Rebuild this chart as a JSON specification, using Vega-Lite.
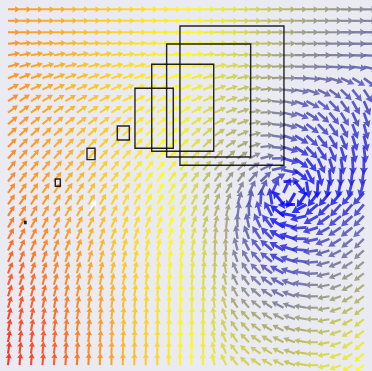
{
  "$schema": "https://vega.github.io/schema/vega-lite/v6.json",
  "width": 372,
  "height": 371,
  "padding": 0,
  "autosize": {"type": "none"},
  "background": "#eaeaf2",
  "config": {"view": {"stroke": null}},
  "layer": [
    {
      "data": {"values": [
{"c":0,"r":0,"a":0,"s":26},{"c":1,"r":0,"a":0,"s":28},{"c":2,"r":0,"a":0,"s":29},{"c":3,"r":0,"a":0,"s":31},{"c":4,"r":0,"a":0,"s":32},{"c":5,"r":0,"a":0,"s":34},{"c":6,"r":0,"a":0,"s":36},{"c":7,"r":0,"a":0,"s":37},{"c":8,"r":0,"a":0,"s":39},{"c":9,"r":0,"a":0,"s":40},{"c":10,"r":0,"a":0,"s":42},{"c":11,"r":0,"a":0,"s":43},{"c":12,"r":0,"a":0,"s":45},{"c":13,"r":0,"a":0,"s":46},{"c":14,"r":0,"a":0,"s":48},{"c":15,"r":0,"a":0,"s":49},{"c":16,"r":0,"a":0,"s":51},{"c":17,"r":0,"a":0,"s":52},{"c":18,"r":0,"a":0,"s":54},{"c":19,"r":0,"a":0,"s":55},{"c":20,"r":0,"a":0,"s":57},{"c":21,"r":0,"a":0,"s":59},{"c":22,"r":0,"a":0,"s":61},{"c":23,"r":0,"a":0,"s":64},{"c":24,"r":0,"a":0,"s":66},{"c":25,"r":0,"a":0,"s":68},{"c":26,"r":0,"a":0,"s":69},{"c":27,"r":0,"a":0,"s":70},{"c":28,"r":0,"a":0,"s":72},{"c":29,"r":0,"a":0,"s":73},{"c":30,"r":0,"a":0,"s":74},{"c":31,"r":0,"a":0,"s":75},
{"c":0,"r":1,"a":0,"s":26},{"c":1,"r":1,"a":0,"s":28},{"c":2,"r":1,"a":0,"s":29},{"c":3,"r":1,"a":0,"s":31},{"c":4,"r":1,"a":0,"s":32},{"c":5,"r":1,"a":0,"s":34},{"c":6,"r":1,"a":0,"s":36},{"c":7,"r":1,"a":0,"s":37},{"c":8,"r":1,"a":0,"s":39},{"c":9,"r":1,"a":0,"s":41},{"c":10,"r":1,"a":0,"s":42},{"c":11,"r":1,"a":0,"s":44},{"c":12,"r":1,"a":0,"s":45},{"c":13,"r":1,"a":0,"s":46},{"c":14,"r":1,"a":0,"s":48},{"c":15,"r":1,"a":0,"s":49},{"c":16,"r":1,"a":0,"s":51},{"c":17,"r":1,"a":0,"s":53},{"c":18,"r":1,"a":0,"s":54},{"c":19,"r":1,"a":0,"s":56},{"c":20,"r":1,"a":0,"s":58},{"c":21,"r":1,"a":0,"s":60},{"c":22,"r":1,"a":0,"s":62},{"c":23,"r":1,"a":0,"s":65},{"c":24,"r":1,"a":0,"s":67},{"c":25,"r":1,"a":0,"s":69},{"c":26,"r":1,"a":0,"s":71},{"c":27,"r":1,"a":0,"s":72},{"c":28,"r":1,"a":0,"s":73},{"c":29,"r":1,"a":0,"s":74},{"c":30,"r":1,"a":0,"s":75},{"c":31,"r":1,"a":0,"s":76},
{"c":0,"r":2,"a":0,"s":26},{"c":1,"r":2,"a":0,"s":28},{"c":2,"r":2,"a":0,"s":29},{"c":3,"r":2,"a":0,"s":31},{"c":4,"r":2,"a":0,"s":32},{"c":5,"r":2,"a":0,"s":34},{"c":6,"r":2,"a":0,"s":36},{"c":7,"r":2,"a":0,"s":37},{"c":8,"r":2,"a":0,"s":39},{"c":9,"r":2,"a":0,"s":41},{"c":10,"r":2,"a":0,"s":42},{"c":11,"r":2,"a":0,"s":44},{"c":12,"r":2,"a":0,"s":45},{"c":13,"r":2,"a":0,"s":47},{"c":14,"r":2,"a":0,"s":48},{"c":15,"r":2,"a":0,"s":49},{"c":16,"r":2,"a":0,"s":51},{"c":17,"r":2,"a":0,"s":53},{"c":18,"r":2,"a":0,"s":55},{"c":19,"r":2,"a":0,"s":56},{"c":20,"r":2,"a":0,"s":58},{"c":21,"r":2,"a":0,"s":61},{"c":22,"r":2,"a":0,"s":63},{"c":23,"r":2,"a":0,"s":66},{"c":24,"r":2,"a":0,"s":68},{"c":25,"r":2,"a":0,"s":71},{"c":26,"r":2,"a":0,"s":72},{"c":27,"r":2,"a":0,"s":73},{"c":28,"r":2,"a":0,"s":74},{"c":29,"r":2,"a":0,"s":76},{"c":30,"r":2,"a":0,"s":77},{"c":31,"r":2,"a":0,"s":78},
{"c":0,"r":3,"a":5,"s":26},{"c":1,"r":3,"a":5,"s":28},{"c":2,"r":3,"a":5,"s":29},{"c":3,"r":3,"a":5,"s":31},{"c":4,"r":3,"a":5,"s":32},{"c":5,"r":3,"a":5,"s":34},{"c":6,"r":3,"a":5,"s":36},{"c":7,"r":3,"a":4,"s":37},{"c":8,"r":3,"a":4,"s":39},{"c":9,"r":3,"a":4,"s":41},{"c":10,"r":3,"a":4,"s":43},{"c":11,"r":3,"a":4,"s":44},{"c":12,"r":3,"a":4,"s":45},{"c":13,"r":3,"a":4,"s":47},{"c":14,"r":3,"a":3,"s":48},{"c":15,"r":3,"a":3,"s":50},{"c":16,"r":3,"a":3,"s":51},{"c":17,"r":3,"a":3,"s":53},{"c":18,"r":3,"a":3,"s":55},{"c":19,"r":3,"a":3,"s":57},{"c":20,"r":3,"a":3,"s":59},{"c":21,"r":3,"a":2,"s":62},{"c":22,"r":3,"a":2,"s":64},{"c":23,"r":3,"a":2,"s":67},{"c":24,"r":3,"a":2,"s":70},{"c":25,"r":3,"a":1,"s":72},{"c":26,"r":3,"a":1,"s":73},{"c":27,"r":3,"a":1,"s":75},{"c":28,"r":3,"a":0,"s":76},{"c":29,"r":3,"a":0,"s":77},{"c":30,"r":3,"a":0,"s":78},{"c":31,"r":3,"a":0,"s":79},
{"c":0,"r":4,"a":10,"s":26},{"c":1,"r":4,"a":10,"s":28},{"c":2,"r":4,"a":10,"s":29},{"c":3,"r":4,"a":9,"s":31},{"c":4,"r":4,"a":9,"s":32},{"c":5,"r":4,"a":9,"s":34},{"c":6,"r":4,"a":9,"s":36},{"c":7,"r":4,"a":9,"s":38},{"c":8,"r":4,"a":9,"s":39},{"c":9,"r":4,"a":8,"s":41},{"c":10,"r":4,"a":8,"s":43},{"c":11,"r":4,"a":8,"s":44},{"c":12,"r":4,"a":8,"s":46},{"c":13,"r":4,"a":8,"s":47},{"c":14,"r":4,"a":8,"s":48},{"c":15,"r":4,"a":7,"s":50},{"c":16,"r":4,"a":7,"s":52},{"c":17,"r":4,"a":7,"s":54},{"c":18,"r":4,"a":6,"s":56},{"c":19,"r":4,"a":5,"s":58},{"c":20,"r":4,"a":4,"s":59},{"c":21,"r":4,"a":3,"s":62},{"c":22,"r":4,"a":2,"s":65},{"c":23,"r":4,"a":1,"s":68},{"c":24,"r":4,"a":0,"s":71},{"c":25,"r":4,"a":0,"s":74},{"c":26,"r":4,"a":0,"s":75},{"c":27,"r":4,"a":0,"s":76},{"c":28,"r":4,"a":0,"s":77},{"c":29,"r":4,"a":-1,"s":78},{"c":30,"r":4,"a":-2,"s":79},{"c":31,"r":4,"a":-3,"s":81},
{"c":0,"r":5,"a":15,"s":26},{"c":1,"r":5,"a":15,"s":28},{"c":2,"r":5,"a":15,"s":29},{"c":3,"r":5,"a":14,"s":31},{"c":4,"r":5,"a":14,"s":32},{"c":5,"r":5,"a":14,"s":34},{"c":6,"r":5,"a":14,"s":36},{"c":7,"r":5,"a":13,"s":38},{"c":8,"r":5,"a":13,"s":39},{"c":9,"r":5,"a":13,"s":41},{"c":10,"r":5,"a":13,"s":43},{"c":11,"r":5,"a":12,"s":44},{"c":12,"r":5,"a":12,"s":46},{"c":13,"r":5,"a":12,"s":47},{"c":14,"r":5,"a":12,"s":49},{"c":15,"r":5,"a":11,"s":50},{"c":16,"r":5,"a":11,"s":52},{"c":17,"r":5,"a":11,"s":54},{"c":18,"r":5,"a":10,"s":56},{"c":19,"r":5,"a":9,"s":58},{"c":20,"r":5,"a":7,"s":60},{"c":21,"r":5,"a":6,"s":63},{"c":22,"r":5,"a":4,"s":66},{"c":23,"r":5,"a":3,"s":69},{"c":24,"r":5,"a":2,"s":72},{"c":25,"r":5,"a":1,"s":75},{"c":26,"r":5,"a":0,"s":76},{"c":27,"r":5,"a":-1,"s":77},{"c":28,"r":5,"a":-3,"s":79},{"c":29,"r":5,"a":-5,"s":80},{"c":30,"r":5,"a":-8,"s":81},{"c":31,"r":5,"a":-12,"s":82},
{"c":0,"r":6,"a":21,"s":26},{"c":1,"r":6,"a":21,"s":27},{"c":2,"r":6,"a":20,"s":29},{"c":3,"r":6,"a":20,"s":31},{"c":4,"r":6,"a":20,"s":32},{"c":5,"r":6,"a":20,"s":34},{"c":6,"r":6,"a":19,"s":36},{"c":7,"r":6,"a":19,"s":38},{"c":8,"r":6,"a":19,"s":39},{"c":9,"r":6,"a":18,"s":41},{"c":10,"r":6,"a":18,"s":43},{"c":11,"r":6,"a":18,"s":45},{"c":12,"r":6,"a":17,"s":46},{"c":13,"r":6,"a":17,"s":47},{"c":14,"r":6,"a":17,"s":49},{"c":15,"r":6,"a":17,"s":50},{"c":16,"r":6,"a":16,"s":53},{"c":17,"r":6,"a":16,"s":55},{"c":18,"r":6,"a":14,"s":57},{"c":19,"r":6,"a":12,"s":59},{"c":20,"r":6,"a":10,"s":61},{"c":21,"r":6,"a":8,"s":65},{"c":22,"r":6,"a":5,"s":68},{"c":23,"r":6,"a":3,"s":71},{"c":24,"r":6,"a":1,"s":74},{"c":25,"r":6,"a":-1,"s":78},{"c":26,"r":6,"a":-5,"s":79},{"c":27,"r":6,"a":-10,"s":80},{"c":28,"r":6,"a":-17,"s":81},{"c":29,"r":6,"a":-24,"s":82},{"c":30,"r":6,"a":-31,"s":83},{"c":31,"r":6,"a":-37,"s":84},
{"c":0,"r":7,"a":27,"s":26},{"c":1,"r":7,"a":27,"s":27},{"c":2,"r":7,"a":26,"s":29},{"c":3,"r":7,"a":26,"s":30},{"c":4,"r":7,"a":26,"s":32},{"c":5,"r":7,"a":25,"s":34},{"c":6,"r":7,"a":25,"s":36},{"c":7,"r":7,"a":25,"s":37},{"c":8,"r":7,"a":24,"s":39},{"c":9,"r":7,"a":24,"s":41},{"c":10,"r":7,"a":23,"s":43},{"c":11,"r":7,"a":23,"s":45},{"c":12,"r":7,"a":23,"s":46},{"c":13,"r":7,"a":22,"s":48},{"c":14,"r":7,"a":22,"s":49},{"c":15,"r":7,"a":22,"s":51},{"c":16,"r":7,"a":21,"s":53},{"c":17,"r":7,"a":21,"s":55},{"c":18,"r":7,"a":19,"s":58},{"c":19,"r":7,"a":17,"s":60},{"c":20,"r":7,"a":14,"s":62},{"c":21,"r":7,"a":10,"s":66},{"c":22,"r":7,"a":5,"s":70},{"c":23,"r":7,"a":0,"s":73},{"c":24,"r":7,"a":-6,"s":77},{"c":25,"r":7,"a":-12,"s":80},{"c":26,"r":7,"a":-19,"s":81},{"c":27,"r":7,"a":-27,"s":82},{"c":28,"r":7,"a":-36,"s":83},{"c":29,"r":7,"a":-44,"s":84},{"c":30,"r":7,"a":-51,"s":84},{"c":31,"r":7,"a":-57,"s":85},
{"c":0,"r":8,"a":32,"s":25},{"c":1,"r":8,"a":32,"s":27},{"c":2,"r":8,"a":31,"s":29},{"c":3,"r":8,"a":31,"s":30},{"c":4,"r":8,"a":30,"s":32},{"c":5,"r":8,"a":30,"s":33},{"c":6,"r":8,"a":30,"s":35},{"c":7,"r":8,"a":29,"s":37},{"c":8,"r":8,"a":29,"s":39},{"c":9,"r":8,"a":28,"s":41},{"c":10,"r":8,"a":28,"s":43},{"c":11,"r":8,"a":27,"s":45},{"c":12,"r":8,"a":27,"s":46},{"c":13,"r":8,"a":27,"s":48},{"c":14,"r":8,"a":26,"s":50},{"c":15,"r":8,"a":26,"s":51},{"c":16,"r":8,"a":25,"s":54},{"c":17,"r":8,"a":25,"s":56},{"c":18,"r":8,"a":23,"s":59},{"c":19,"r":8,"a":20,"s":61},{"c":20,"r":8,"a":16,"s":64},{"c":21,"r":8,"a":10,"s":67},{"c":22,"r":8,"a":3,"s":71},{"c":23,"r":8,"a":-5,"s":75},{"c":24,"r":8,"a":-12,"s":79},{"c":25,"r":8,"a":-20,"s":83},{"c":26,"r":8,"a":-28,"s":83},{"c":27,"r":8,"a":-37,"s":84},{"c":28,"r":8,"a":-46,"s":85},{"c":29,"r":8,"a":-54,"s":85},{"c":30,"r":8,"a":-61,"s":86},{"c":31,"r":8,"a":-66,"s":87},
{"c":0,"r":9,"a":36,"s":25},{"c":1,"r":9,"a":36,"s":27},{"c":2,"r":9,"a":35,"s":28},{"c":3,"r":9,"a":35,"s":30},{"c":4,"r":9,"a":34,"s":32},{"c":5,"r":9,"a":34,"s":33},{"c":6,"r":9,"a":34,"s":35},{"c":7,"r":9,"a":33,"s":37},{"c":8,"r":9,"a":33,"s":39},{"c":9,"r":9,"a":32,"s":41},{"c":10,"r":9,"a":32,"s":43},{"c":11,"r":9,"a":31,"s":45},{"c":12,"r":9,"a":31,"s":46},{"c":13,"r":9,"a":31,"s":48},{"c":14,"r":9,"a":30,"s":50},{"c":15,"r":9,"a":30,"s":52},{"c":16,"r":9,"a":29,"s":54},{"c":17,"r":9,"a":29,"s":57},{"c":18,"r":9,"a":25,"s":60},{"c":19,"r":9,"a":22,"s":62},{"c":20,"r":9,"a":18,"s":65},{"c":21,"r":9,"a":11,"s":68},{"c":22,"r":9,"a":3,"s":72},{"c":23,"r":9,"a":-6,"s":76},{"c":24,"r":9,"a":-14,"s":80},{"c":25,"r":9,"a":-23,"s":84},{"c":26,"r":9,"a":-32,"s":85},{"c":27,"r":9,"a":-42,"s":85},{"c":28,"r":9,"a":-51,"s":86},{"c":29,"r":9,"a":-59,"s":86},{"c":30,"r":9,"a":-66,"s":87},{"c":31,"r":9,"a":-71,"s":88},
{"c":0,"r":10,"a":39,"s":25},{"c":1,"r":10,"a":39,"s":27},{"c":2,"r":10,"a":38,"s":28},{"c":3,"r":10,"a":38,"s":30},{"c":4,"r":10,"a":38,"s":31},{"c":5,"r":10,"a":37,"s":33},{"c":6,"r":10,"a":37,"s":35},{"c":7,"r":10,"a":37,"s":37},{"c":8,"r":10,"a":36,"s":39},{"c":9,"r":10,"a":36,"s":41},{"c":10,"r":10,"a":35,"s":43},{"c":11,"r":10,"a":35,"s":45},{"c":12,"r":10,"a":35,"s":47},{"c":13,"r":10,"a":34,"s":48},{"c":14,"r":10,"a":34,"s":50},{"c":15,"r":10,"a":34,"s":52},{"c":16,"r":10,"a":33,"s":55},{"c":17,"r":10,"a":33,"s":58},{"c":18,"r":10,"a":29,"s":60},{"c":19,"r":10,"a":25,"s":63},{"c":20,"r":10,"a":20,"s":65},{"c":21,"r":10,"a":12,"s":69},{"c":22,"r":10,"a":3,"s":73},{"c":23,"r":10,"a":-6,"s":77},{"c":24,"r":10,"a":-16,"s":81},{"c":25,"r":10,"a":-26,"s":85},{"c":26,"r":10,"a":-36,"s":86},{"c":27,"r":10,"a":-46,"s":86},{"c":28,"r":10,"a":-55,"s":87},{"c":29,"r":10,"a":-63,"s":87},{"c":30,"r":10,"a":-70,"s":88},{"c":31,"r":10,"a":-75,"s":88},
{"c":0,"r":11,"a":43,"s":25},{"c":1,"r":11,"a":43,"s":26},{"c":2,"r":11,"a":43,"s":28},{"c":3,"r":11,"a":42,"s":30},{"c":4,"r":11,"a":42,"s":31},{"c":5,"r":11,"a":42,"s":33},{"c":6,"r":11,"a":42,"s":35},{"c":7,"r":11,"a":42,"s":37},{"c":8,"r":11,"a":42,"s":39},{"c":9,"r":11,"a":41,"s":41},{"c":10,"r":11,"a":41,"s":43},{"c":11,"r":11,"a":41,"s":45},{"c":12,"r":11,"a":41,"s":47},{"c":13,"r":11,"a":41,"s":49},{"c":14,"r":11,"a":40,"s":51},{"c":15,"r":11,"a":40,"s":53},{"c":16,"r":11,"a":40,"s":56},{"c":17,"r":11,"a":40,"s":59},{"c":18,"r":11,"a":33,"s":62},{"c":19,"r":11,"a":29,"s":65},{"c":20,"r":11,"a":23,"s":66},{"c":21,"r":11,"a":14,"s":70},{"c":22,"r":11,"a":2,"s":75},{"c":23,"r":11,"a":-8,"s":79},{"c":24,"r":11,"a":-19,"s":84},{"c":25,"r":11,"a":-31,"s":88},{"c":26,"r":11,"a":-42,"s":88},{"c":27,"r":11,"a":-52,"s":89},{"c":28,"r":11,"a":-60,"s":89},{"c":29,"r":11,"a":-67,"s":89},{"c":30,"r":11,"a":-73,"s":90},{"c":31,"r":11,"a":-77,"s":90},
{"c":0,"r":12,"a":46,"s":25},{"c":1,"r":12,"a":46,"s":26},{"c":2,"r":12,"a":46,"s":28},{"c":3,"r":12,"a":46,"s":29},{"c":4,"r":12,"a":46,"s":31},{"c":5,"r":12,"a":45,"s":33},{"c":6,"r":12,"a":45,"s":35},{"c":7,"r":12,"a":45,"s":37},{"c":8,"r":12,"a":45,"s":39},{"c":9,"r":12,"a":45,"s":41},{"c":10,"r":12,"a":45,"s":43},{"c":11,"r":12,"a":45,"s":45},{"c":12,"r":12,"a":45,"s":47},{"c":13,"r":12,"a":44,"s":49},{"c":14,"r":12,"a":44,"s":51},{"c":15,"r":12,"a":44,"s":53},{"c":16,"r":12,"a":44,"s":56},{"c":17,"r":12,"a":44,"s":60},{"c":18,"r":12,"a":40,"s":63},{"c":19,"r":12,"a":35,"s":66},{"c":20,"r":12,"a":28,"s":68},{"c":21,"r":12,"a":18,"s":72},{"c":22,"r":12,"a":7,"s":77},{"c":23,"r":12,"a":-4,"s":81},{"c":24,"r":12,"a":-18,"s":86},{"c":25,"r":12,"a":-32,"s":90},{"c":26,"r":12,"a":-46,"s":90},{"c":27,"r":12,"a":-57,"s":90},{"c":28,"r":12,"a":-66,"s":90},{"c":29,"r":12,"a":-73,"s":90},{"c":30,"r":12,"a":-79,"s":90},{"c":31,"r":12,"a":-83,"s":90},
{"c":0,"r":13,"a":48,"s":24},{"c":1,"r":13,"a":48,"s":26},{"c":2,"r":13,"a":48,"s":28},{"c":3,"r":13,"a":48,"s":29},{"c":4,"r":13,"a":48,"s":31},{"c":5,"r":13,"a":48,"s":32},{"c":6,"r":13,"a":48,"s":35},{"c":7,"r":13,"a":48,"s":37},{"c":8,"r":13,"a":48,"s":39},{"c":9,"r":13,"a":47,"s":41},{"c":10,"r":13,"a":47,"s":43},{"c":11,"r":13,"a":47,"s":45},{"c":12,"r":13,"a":47,"s":47},{"c":13,"r":13,"a":47,"s":50},{"c":14,"r":13,"a":47,"s":52},{"c":15,"r":13,"a":47,"s":54},{"c":16,"r":13,"a":47,"s":57},{"c":17,"r":13,"a":47,"s":61},{"c":18,"r":13,"a":45,"s":64},{"c":19,"r":13,"a":41,"s":68},{"c":20,"r":13,"a":35,"s":70},{"c":21,"r":13,"a":26,"s":74},{"c":22,"r":13,"a":15,"s":79},{"c":23,"r":13,"a":2,"s":83},{"c":24,"r":13,"a":-16,"s":88},{"c":25,"r":13,"a":-35,"s":92},{"c":26,"r":13,"a":-52,"s":92},{"c":27,"r":13,"a":-65,"s":91},{"c":28,"r":13,"a":-74,"s":91},{"c":29,"r":13,"a":-81,"s":91},{"c":30,"r":13,"a":-86,"s":90},{"c":31,"r":13,"a":-90,"s":90},
{"c":0,"r":14,"a":50,"s":24},{"c":1,"r":14,"a":50,"s":26},{"c":2,"r":14,"a":50,"s":27},{"c":3,"r":14,"a":50,"s":29},{"c":4,"r":14,"a":50,"s":31},{"c":5,"r":14,"a":50,"s":32},{"c":6,"r":14,"a":50,"s":34},{"c":7,"r":14,"a":50,"s":37},{"c":8,"r":14,"a":50,"s":39},{"c":9,"r":14,"a":50,"s":41},{"c":10,"r":14,"a":50,"s":43},{"c":11,"r":14,"a":50,"s":45},{"c":12,"r":14,"a":50,"s":48},{"c":13,"r":14,"a":50,"s":50},{"c":14,"r":14,"a":50,"s":52},{"c":15,"r":14,"a":50,"s":54},{"c":16,"r":14,"a":50,"s":58},{"c":17,"r":14,"a":50,"s":62},{"c":18,"r":14,"a":49,"s":66},{"c":19,"r":14,"a":47,"s":69},{"c":20,"r":14,"a":43,"s":71},{"c":21,"r":14,"a":36,"s":76},{"c":22,"r":14,"a":26,"s":80},{"c":23,"r":14,"a":12,"s":85},{"c":24,"r":14,"a":-11,"s":90},{"c":25,"r":14,"a":-39,"s":94},{"c":26,"r":14,"a":-62,"s":93},{"c":27,"r":14,"a":-76,"s":93},{"c":28,"r":14,"a":-85,"s":92},{"c":29,"r":14,"a":-91,"s":91},{"c":30,"r":14,"a":-95,"s":91},{"c":31,"r":14,"a":-98,"s":90},
{"c":0,"r":15,"a":52,"s":24},{"c":1,"r":15,"a":52,"s":26},{"c":2,"r":15,"a":52,"s":27},{"c":3,"r":15,"a":52,"s":29},{"c":4,"r":15,"a":52,"s":30},{"c":5,"r":15,"a":52,"s":32},{"c":6,"r":15,"a":52,"s":34},{"c":7,"r":15,"a":52,"s":36},{"c":8,"r":15,"a":52,"s":39},{"c":9,"r":15,"a":53,"s":41},{"c":10,"r":15,"a":53,"s":43},{"c":11,"r":15,"a":53,"s":45},{"c":12,"r":15,"a":53,"s":48},{"c":13,"r":15,"a":53,"s":50},{"c":14,"r":15,"a":53,"s":53},{"c":15,"r":15,"a":53,"s":55},{"c":16,"r":15,"a":53,"s":59},{"c":17,"r":15,"a":53,"s":63},{"c":18,"r":15,"a":54,"s":67},{"c":19,"r":15,"a":54,"s":71},{"c":20,"r":15,"a":53,"s":73},{"c":21,"r":15,"a":49,"s":78},{"c":22,"r":15,"a":43,"s":82},{"c":23,"r":15,"a":31,"s":87},{"c":24,"r":15,"a":2,"s":91},{"c":25,"r":15,"a":-52,"s":96},{"c":26,"r":15,"a":-81,"s":95},{"c":27,"r":15,"a":-93,"s":94},{"c":28,"r":15,"a":-99,"s":93},{"c":29,"r":15,"a":-102,"s":92},{"c":30,"r":15,"a":-105,"s":91},{"c":31,"r":15,"a":-106,"s":90},
{"c":0,"r":16,"a":54,"s":23},{"c":1,"r":16,"a":54,"s":25},{"c":2,"r":16,"a":54,"s":26},{"c":3,"r":16,"a":55,"s":28},{"c":4,"r":16,"a":55,"s":30},{"c":5,"r":16,"a":55,"s":31},{"c":6,"r":16,"a":55,"s":33},{"c":7,"r":16,"a":56,"s":36},{"c":8,"r":16,"a":56,"s":38},{"c":9,"r":16,"a":56,"s":40},{"c":10,"r":16,"a":56,"s":42},{"c":11,"r":16,"a":57,"s":45},{"c":12,"r":16,"a":57,"s":47},{"c":13,"r":16,"a":57,"s":50},{"c":14,"r":16,"a":57,"s":52},{"c":15,"r":16,"a":58,"s":54},{"c":16,"r":16,"a":58,"s":58},{"c":17,"r":16,"a":58,"s":62},{"c":18,"r":16,"a":59,"s":66},{"c":19,"r":16,"a":61,"s":70},{"c":20,"r":16,"a":63,"s":75},{"c":21,"r":16,"a":64,"s":80},{"c":22,"r":16,"a":65,"s":84},{"c":23,"r":16,"a":65,"s":89},{"c":24,"r":16,"a":65,"s":93},{"c":25,"r":16,"a":240,"s":98},{"c":26,"r":16,"a":236,"s":97},{"c":27,"r":16,"a":233,"s":95},{"c":28,"r":16,"a":231,"s":94},{"c":29,"r":16,"a":230,"s":93},{"c":30,"r":16,"a":229,"s":91},{"c":31,"r":16,"a":228,"s":90},
{"c":0,"r":17,"a":56,"s":22},{"c":1,"r":17,"a":56,"s":23},{"c":2,"r":17,"a":57,"s":25},{"c":3,"r":17,"a":57,"s":27},{"c":4,"r":17,"a":57,"s":29},{"c":5,"r":17,"a":58,"s":30},{"c":6,"r":17,"a":58,"s":33},{"c":7,"r":17,"a":58,"s":35},{"c":8,"r":17,"a":59,"s":37},{"c":9,"r":17,"a":59,"s":40},{"c":10,"r":17,"a":60,"s":42},{"c":11,"r":17,"a":60,"s":44},{"c":12,"r":17,"a":60,"s":47},{"c":13,"r":17,"a":61,"s":49},{"c":14,"r":17,"a":61,"s":51},{"c":15,"r":17,"a":61,"s":54},{"c":16,"r":17,"a":62,"s":58},{"c":17,"r":17,"a":62,"s":62},{"c":18,"r":17,"a":66,"s":66},{"c":19,"r":17,"a":69,"s":70},{"c":20,"r":17,"a":74,"s":79},{"c":21,"r":17,"a":79,"s":84},{"c":22,"r":17,"a":87,"s":88},{"c":23,"r":17,"a":99,"s":93},{"c":24,"r":17,"a":128,"s":97},{"c":25,"r":17,"a":182,"s":96},{"c":26,"r":17,"a":210,"s":95},{"c":27,"r":17,"a":220,"s":93},{"c":28,"r":17,"a":225,"s":92},{"c":29,"r":17,"a":228,"s":90},{"c":30,"r":17,"a":229,"s":89},{"c":31,"r":17,"a":230,"s":87},
{"c":0,"r":18,"a":58,"s":20},{"c":1,"r":18,"a":58,"s":22},{"c":2,"r":18,"a":59,"s":24},{"c":3,"r":18,"a":59,"s":26},{"c":4,"r":18,"a":60,"s":28},{"c":5,"r":18,"a":60,"s":30},{"c":6,"r":18,"a":61,"s":32},{"c":7,"r":18,"a":61,"s":34},{"c":8,"r":18,"a":62,"s":37},{"c":9,"r":18,"a":62,"s":39},{"c":10,"r":18,"a":63,"s":41},{"c":11,"r":18,"a":63,"s":44},{"c":12,"r":18,"a":64,"s":46},{"c":13,"r":18,"a":64,"s":48},{"c":14,"r":18,"a":65,"s":51},{"c":15,"r":18,"a":65,"s":53},{"c":16,"r":18,"a":66,"s":57},{"c":17,"r":18,"a":66,"s":61},{"c":18,"r":18,"a":71,"s":65},{"c":19,"r":18,"a":76,"s":69},{"c":20,"r":18,"a":83,"s":79},{"c":21,"r":18,"a":92,"s":83},{"c":22,"r":18,"a":104,"s":87},{"c":23,"r":18,"a":118,"s":91},{"c":24,"r":18,"a":141,"s":96},{"c":25,"r":18,"a":169,"s":95},{"c":26,"r":18,"a":193,"s":93},{"c":27,"r":18,"a":209,"s":91},{"c":28,"r":18,"a":216,"s":89},{"c":29,"r":18,"a":220,"s":88},{"c":30,"r":18,"a":223,"s":86},{"c":31,"r":18,"a":226,"s":84},
{"c":0,"r":19,"a":60,"s":19},{"c":1,"r":19,"a":61,"s":21},{"c":2,"r":19,"a":61,"s":23},{"c":3,"r":19,"a":62,"s":25},{"c":4,"r":19,"a":62,"s":27},{"c":5,"r":19,"a":63,"s":29},{"c":6,"r":19,"a":64,"s":31},{"c":7,"r":19,"a":64,"s":34},{"c":8,"r":19,"a":65,"s":36},{"c":9,"r":19,"a":65,"s":38},{"c":10,"r":19,"a":66,"s":41},{"c":11,"r":19,"a":66,"s":43},{"c":12,"r":19,"a":67,"s":45},{"c":13,"r":19,"a":68,"s":48},{"c":14,"r":19,"a":68,"s":50},{"c":15,"r":19,"a":69,"s":53},{"c":16,"r":19,"a":69,"s":57},{"c":17,"r":19,"a":70,"s":61},{"c":18,"r":19,"a":77,"s":65},{"c":19,"r":19,"a":83,"s":69},{"c":20,"r":19,"a":92,"s":78},{"c":21,"r":19,"a":102,"s":82},{"c":22,"r":19,"a":115,"s":86},{"c":23,"r":19,"a":128,"s":90},{"c":24,"r":19,"a":146,"s":94},{"c":25,"r":19,"a":165,"s":93},{"c":26,"r":19,"a":184,"s":91},{"c":27,"r":19,"a":198,"s":89},{"c":28,"r":19,"a":209,"s":87},{"c":29,"r":19,"a":214,"s":85},{"c":30,"r":19,"a":219,"s":83},{"c":31,"r":19,"a":223,"s":81},
{"c":0,"r":20,"a":62,"s":18},{"c":1,"r":20,"a":63,"s":20},{"c":2,"r":20,"a":63,"s":22},{"c":3,"r":20,"a":64,"s":24},{"c":4,"r":20,"a":65,"s":26},{"c":5,"r":20,"a":66,"s":28},{"c":6,"r":20,"a":66,"s":30},{"c":7,"r":20,"a":67,"s":33},{"c":8,"r":20,"a":68,"s":35},{"c":9,"r":20,"a":68,"s":38},{"c":10,"r":20,"a":69,"s":40},{"c":11,"r":20,"a":70,"s":42},{"c":12,"r":20,"a":70,"s":45},{"c":13,"r":20,"a":71,"s":47},{"c":14,"r":20,"a":72,"s":50},{"c":15,"r":20,"a":73,"s":52},{"c":16,"r":20,"a":73,"s":56},{"c":17,"r":20,"a":74,"s":60},{"c":18,"r":20,"a":82,"s":64},{"c":19,"r":20,"a":89,"s":68},{"c":20,"r":20,"a":99,"s":78},{"c":21,"r":20,"a":110,"s":81},{"c":22,"r":20,"a":123,"s":85},{"c":23,"r":20,"a":134,"s":89},{"c":24,"r":20,"a":148,"s":93},{"c":25,"r":20,"a":163,"s":92},{"c":26,"r":20,"a":178,"s":89},{"c":27,"r":20,"a":192,"s":87},{"c":28,"r":20,"a":202,"s":85},{"c":29,"r":20,"a":212,"s":83},{"c":30,"r":20,"a":219,"s":80},{"c":31,"r":20,"a":225,"s":78},
{"c":0,"r":21,"a":64,"s":16},{"c":1,"r":21,"a":65,"s":19},{"c":2,"r":21,"a":66,"s":21},{"c":3,"r":21,"a":66,"s":23},{"c":4,"r":21,"a":67,"s":25},{"c":5,"r":21,"a":68,"s":27},{"c":6,"r":21,"a":69,"s":29},{"c":7,"r":21,"a":70,"s":32},{"c":8,"r":21,"a":71,"s":34},{"c":9,"r":21,"a":71,"s":37},{"c":10,"r":21,"a":72,"s":39},{"c":11,"r":21,"a":73,"s":42},{"c":12,"r":21,"a":74,"s":44},{"c":13,"r":21,"a":75,"s":47},{"c":14,"r":21,"a":75,"s":49},{"c":15,"r":21,"a":76,"s":52},{"c":16,"r":21,"a":77,"s":55},{"c":17,"r":21,"a":78,"s":59},{"c":18,"r":21,"a":86,"s":63},{"c":19,"r":21,"a":94,"s":67},{"c":20,"r":21,"a":105,"s":77},{"c":21,"r":21,"a":116,"s":81},{"c":22,"r":21,"a":128,"s":84},{"c":23,"r":21,"a":138,"s":88},{"c":24,"r":21,"a":149,"s":91},{"c":25,"r":21,"a":162,"s":90},{"c":26,"r":21,"a":175,"s":88},{"c":27,"r":21,"a":187,"s":85},{"c":28,"r":21,"a":198,"s":83},{"c":29,"r":21,"a":207,"s":80},{"c":30,"r":21,"a":215,"s":78},{"c":31,"r":21,"a":222,"s":75},
{"c":0,"r":22,"a":66,"s":15},{"c":1,"r":22,"a":67,"s":17},{"c":2,"r":22,"a":68,"s":19},{"c":3,"r":22,"a":69,"s":21},{"c":4,"r":22,"a":70,"s":23},{"c":5,"r":22,"a":70,"s":26},{"c":6,"r":22,"a":71,"s":28},{"c":7,"r":22,"a":72,"s":31},{"c":8,"r":22,"a":73,"s":33},{"c":9,"r":22,"a":74,"s":36},{"c":10,"r":22,"a":75,"s":38},{"c":11,"r":22,"a":76,"s":41},{"c":12,"r":22,"a":77,"s":44},{"c":13,"r":22,"a":77,"s":46},{"c":14,"r":22,"a":78,"s":49},{"c":15,"r":22,"a":79,"s":51},{"c":16,"r":22,"a":80,"s":55},{"c":17,"r":22,"a":81,"s":58},{"c":18,"r":22,"a":86,"s":62},{"c":19,"r":22,"a":96,"s":66},{"c":20,"r":22,"a":110,"s":76},{"c":21,"r":22,"a":120,"s":79},{"c":22,"r":22,"a":132,"s":82},{"c":23,"r":22,"a":141,"s":85},{"c":24,"r":22,"a":150,"s":89},{"c":25,"r":22,"a":161,"s":87},{"c":26,"r":22,"a":173,"s":85},{"c":27,"r":22,"a":184,"s":82},{"c":28,"r":22,"a":195,"s":80},{"c":29,"r":22,"a":204,"s":77},{"c":30,"r":22,"a":212,"s":75},{"c":31,"r":22,"a":220,"s":72},
{"c":0,"r":23,"a":68,"s":13},{"c":1,"r":23,"a":69,"s":15},{"c":2,"r":23,"a":70,"s":18},{"c":3,"r":23,"a":71,"s":20},{"c":4,"r":23,"a":72,"s":22},{"c":5,"r":23,"a":73,"s":24},{"c":6,"r":23,"a":74,"s":27},{"c":7,"r":23,"a":75,"s":30},{"c":8,"r":23,"a":76,"s":32},{"c":9,"r":23,"a":76,"s":35},{"c":10,"r":23,"a":77,"s":38},{"c":11,"r":23,"a":78,"s":40},{"c":12,"r":23,"a":79,"s":43},{"c":13,"r":23,"a":80,"s":46},{"c":14,"r":23,"a":81,"s":48},{"c":15,"r":23,"a":82,"s":51},{"c":16,"r":23,"a":83,"s":54},{"c":17,"r":23,"a":84,"s":58},{"c":18,"r":23,"a":89,"s":61},{"c":19,"r":23,"a":100,"s":64},{"c":20,"r":23,"a":114,"s":74},{"c":21,"r":23,"a":124,"s":77},{"c":22,"r":23,"a":135,"s":80},{"c":23,"r":23,"a":143,"s":83},{"c":24,"r":23,"a":151,"s":86},{"c":25,"r":23,"a":161,"s":84},{"c":26,"r":23,"a":172,"s":82},{"c":27,"r":23,"a":183,"s":79},{"c":28,"r":23,"a":193,"s":77},{"c":29,"r":23,"a":202,"s":75},{"c":30,"r":23,"a":210,"s":72},{"c":31,"r":23,"a":218,"s":70},
{"c":0,"r":24,"a":70,"s":12},{"c":1,"r":24,"a":71,"s":14},{"c":2,"r":24,"a":72,"s":16},{"c":3,"r":24,"a":73,"s":19},{"c":4,"r":24,"a":74,"s":21},{"c":5,"r":24,"a":75,"s":23},{"c":6,"r":24,"a":76,"s":26},{"c":7,"r":24,"a":77,"s":29},{"c":8,"r":24,"a":78,"s":31},{"c":9,"r":24,"a":78,"s":34},{"c":10,"r":24,"a":79,"s":37},{"c":11,"r":24,"a":80,"s":40},{"c":12,"r":24,"a":81,"s":42},{"c":13,"r":24,"a":82,"s":45},{"c":14,"r":24,"a":83,"s":48},{"c":15,"r":24,"a":84,"s":50},{"c":16,"r":24,"a":85,"s":54},{"c":17,"r":24,"a":86,"s":57},{"c":18,"r":24,"a":93,"s":60},{"c":19,"r":24,"a":103,"s":63},{"c":20,"r":24,"a":117,"s":73},{"c":21,"r":24,"a":127,"s":75},{"c":22,"r":24,"a":138,"s":78},{"c":23,"r":24,"a":144,"s":81},{"c":24,"r":24,"a":151,"s":83},{"c":25,"r":24,"a":160,"s":81},{"c":26,"r":24,"a":171,"s":79},{"c":27,"r":24,"a":181,"s":76},{"c":28,"r":24,"a":191,"s":74},{"c":29,"r":24,"a":201,"s":72},{"c":30,"r":24,"a":209,"s":70},{"c":31,"r":24,"a":218,"s":67},
{"c":0,"r":25,"a":72,"s":10},{"c":1,"r":25,"a":73,"s":12},{"c":2,"r":25,"a":74,"s":15},{"c":3,"r":25,"a":75,"s":17},{"c":4,"r":25,"a":76,"s":20},{"c":5,"r":25,"a":77,"s":22},{"c":6,"r":25,"a":78,"s":25},{"c":7,"r":25,"a":79,"s":28},{"c":8,"r":25,"a":80,"s":30},{"c":9,"r":25,"a":80,"s":33},{"c":10,"r":25,"a":81,"s":36},{"c":11,"r":25,"a":82,"s":39},{"c":12,"r":25,"a":83,"s":42},{"c":13,"r":25,"a":84,"s":44},{"c":14,"r":25,"a":85,"s":47},{"c":15,"r":25,"a":86,"s":50},{"c":16,"r":25,"a":87,"s":53},{"c":17,"r":25,"a":88,"s":56},{"c":18,"r":25,"a":95,"s":59},{"c":19,"r":25,"a":106,"s":62},{"c":20,"r":25,"a":119,"s":70},{"c":21,"r":25,"a":129,"s":73},{"c":22,"r":25,"a":140,"s":75},{"c":23,"r":25,"a":146,"s":77},{"c":24,"r":25,"a":152,"s":80},{"c":25,"r":25,"a":160,"s":78},{"c":26,"r":25,"a":171,"s":76},{"c":27,"r":25,"a":181,"s":74},{"c":28,"r":25,"a":190,"s":71},{"c":29,"r":25,"a":200,"s":69},{"c":30,"r":25,"a":209,"s":67},{"c":31,"r":25,"a":217,"s":65},
{"c":0,"r":26,"a":74,"s":9},{"c":1,"r":26,"a":75,"s":11},{"c":2,"r":26,"a":76,"s":14},{"c":3,"r":26,"a":77,"s":16},{"c":4,"r":26,"a":78,"s":18},{"c":5,"r":26,"a":78,"s":21},{"c":6,"r":26,"a":79,"s":24},{"c":7,"r":26,"a":80,"s":27},{"c":8,"r":26,"a":81,"s":29},{"c":9,"r":26,"a":82,"s":33},{"c":10,"r":26,"a":83,"s":36},{"c":11,"r":26,"a":84,"s":38},{"c":12,"r":26,"a":85,"s":41},{"c":13,"r":26,"a":85,"s":44},{"c":14,"r":26,"a":86,"s":47},{"c":15,"r":26,"a":87,"s":50},{"c":16,"r":26,"a":88,"s":53},{"c":17,"r":26,"a":89,"s":55},{"c":18,"r":26,"a":97,"s":58},{"c":19,"r":26,"a":108,"s":61},{"c":20,"r":26,"a":122,"s":68},{"c":21,"r":26,"a":131,"s":70},{"c":22,"r":26,"a":141,"s":72},{"c":23,"r":26,"a":146,"s":74},{"c":24,"r":26,"a":152,"s":76},{"c":25,"r":26,"a":160,"s":75},{"c":26,"r":26,"a":170,"s":73},{"c":27,"r":26,"a":180,"s":71},{"c":28,"r":26,"a":190,"s":69},{"c":29,"r":26,"a":200,"s":66},{"c":30,"r":26,"a":209,"s":64},{"c":31,"r":26,"a":217,"s":62},
{"c":0,"r":27,"a":76,"s":7},{"c":1,"r":27,"a":77,"s":10},{"c":2,"r":27,"a":78,"s":12},{"c":3,"r":27,"a":78,"s":15},{"c":4,"r":27,"a":79,"s":17},{"c":5,"r":27,"a":80,"s":20},{"c":6,"r":27,"a":81,"s":23},{"c":7,"r":27,"a":82,"s":26},{"c":8,"r":27,"a":83,"s":29},{"c":9,"r":27,"a":83,"s":32},{"c":10,"r":27,"a":84,"s":35},{"c":11,"r":27,"a":85,"s":38},{"c":12,"r":27,"a":86,"s":41},{"c":13,"r":27,"a":87,"s":44},{"c":14,"r":27,"a":87,"s":46},{"c":15,"r":27,"a":88,"s":49},{"c":16,"r":27,"a":89,"s":52},{"c":17,"r":27,"a":90,"s":55},{"c":18,"r":27,"a":99,"s":57},{"c":19,"r":27,"a":109,"s":60},{"c":20,"r":27,"a":123,"s":65},{"c":21,"r":27,"a":133,"s":66},{"c":22,"r":27,"a":142,"s":68},{"c":23,"r":27,"a":147,"s":70},{"c":24,"r":27,"a":152,"s":71},{"c":25,"r":27,"a":160,"s":71},{"c":26,"r":27,"a":170,"s":69},{"c":27,"r":27,"a":180,"s":66},{"c":28,"r":27,"a":190,"s":64},{"c":29,"r":27,"a":200,"s":62},{"c":30,"r":27,"a":209,"s":60},{"c":31,"r":27,"a":218,"s":58},
{"c":0,"r":28,"a":78,"s":6},{"c":1,"r":28,"a":79,"s":9},{"c":2,"r":28,"a":79,"s":11},{"c":3,"r":28,"a":80,"s":14},{"c":4,"r":28,"a":81,"s":16},{"c":5,"r":28,"a":82,"s":19},{"c":6,"r":28,"a":82,"s":22},{"c":7,"r":28,"a":83,"s":25},{"c":8,"r":28,"a":84,"s":28},{"c":9,"r":28,"a":84,"s":31},{"c":10,"r":28,"a":85,"s":35},{"c":11,"r":28,"a":86,"s":37},{"c":12,"r":28,"a":86,"s":40},{"c":13,"r":28,"a":87,"s":43},{"c":14,"r":28,"a":88,"s":46},{"c":15,"r":28,"a":89,"s":49},{"c":16,"r":28,"a":89,"s":52},{"c":17,"r":28,"a":90,"s":54},{"c":18,"r":28,"a":100,"s":57},{"c":19,"r":28,"a":111,"s":59},{"c":20,"r":28,"a":125,"s":63},{"c":21,"r":28,"a":134,"s":64},{"c":22,"r":28,"a":143,"s":65},{"c":23,"r":28,"a":148,"s":67},{"c":24,"r":28,"a":153,"s":68},{"c":25,"r":28,"a":160,"s":69},{"c":26,"r":28,"a":170,"s":67},{"c":27,"r":28,"a":180,"s":65},{"c":28,"r":28,"a":190,"s":63},{"c":29,"r":28,"a":200,"s":60},{"c":30,"r":28,"a":209,"s":58},{"c":31,"r":28,"a":218,"s":56},
{"c":0,"r":29,"a":80,"s":5},{"c":1,"r":29,"a":81,"s":7},{"c":2,"r":29,"a":81,"s":10},{"c":3,"r":29,"a":82,"s":12},{"c":4,"r":29,"a":83,"s":15},{"c":5,"r":29,"a":83,"s":17},{"c":6,"r":29,"a":84,"s":21},{"c":7,"r":29,"a":85,"s":24},{"c":8,"r":29,"a":85,"s":27},{"c":9,"r":29,"a":86,"s":31},{"c":10,"r":29,"a":86,"s":34},{"c":11,"r":29,"a":87,"s":37},{"c":12,"r":29,"a":88,"s":40},{"c":13,"r":29,"a":88,"s":43},{"c":14,"r":29,"a":89,"s":46},{"c":15,"r":29,"a":90,"s":49},{"c":16,"r":29,"a":90,"s":51},{"c":17,"r":29,"a":91,"s":53},{"c":18,"r":29,"a":101,"s":56},{"c":19,"r":29,"a":112,"s":58},{"c":20,"r":29,"a":126,"s":60},{"c":21,"r":29,"a":135,"s":62},{"c":22,"r":29,"a":144,"s":63},{"c":23,"r":29,"a":148,"s":64},{"c":24,"r":29,"a":153,"s":65},{"c":25,"r":29,"a":160,"s":66},{"c":26,"r":29,"a":170,"s":64},{"c":27,"r":29,"a":180,"s":62},{"c":28,"r":29,"a":191,"s":60},{"c":29,"r":29,"a":200,"s":58},{"c":30,"r":29,"a":210,"s":56},{"c":31,"r":29,"a":220,"s":54},
{"c":0,"r":30,"a":82,"s":3},{"c":1,"r":30,"a":83,"s":6},{"c":2,"r":30,"a":83,"s":8},{"c":3,"r":30,"a":84,"s":11},{"c":4,"r":30,"a":84,"s":14},{"c":5,"r":30,"a":85,"s":16},{"c":6,"r":30,"a":85,"s":20},{"c":7,"r":30,"a":86,"s":23},{"c":8,"r":30,"a":86,"s":27},{"c":9,"r":30,"a":87,"s":30},{"c":10,"r":30,"a":87,"s":34},{"c":11,"r":30,"a":88,"s":36},{"c":12,"r":30,"a":88,"s":39},{"c":13,"r":30,"a":89,"s":42},{"c":14,"r":30,"a":89,"s":45},{"c":15,"r":30,"a":90,"s":48},{"c":16,"r":30,"a":90,"s":50},{"c":17,"r":30,"a":91,"s":53},{"c":18,"r":30,"a":102,"s":55},{"c":19,"r":30,"a":113,"s":57},{"c":20,"r":30,"a":127,"s":59},{"c":21,"r":30,"a":136,"s":60},{"c":22,"r":30,"a":145,"s":61},{"c":23,"r":30,"a":149,"s":62},{"c":24,"r":30,"a":153,"s":63},{"c":25,"r":30,"a":160,"s":64},{"c":26,"r":30,"a":171,"s":62},{"c":27,"r":30,"a":181,"s":60},{"c":28,"r":30,"a":191,"s":58},{"c":29,"r":30,"a":201,"s":56},{"c":30,"r":30,"a":211,"s":54},{"c":31,"r":30,"a":220,"s":52},
{"c":0,"r":31,"a":84,"s":2},{"c":1,"r":31,"a":84,"s":5},{"c":2,"r":31,"a":85,"s":7},{"c":3,"r":31,"a":85,"s":10},{"c":4,"r":31,"a":86,"s":12},{"c":5,"r":31,"a":86,"s":15},{"c":6,"r":31,"a":87,"s":19},{"c":7,"r":31,"a":87,"s":22},{"c":8,"r":31,"a":88,"s":26},{"c":9,"r":31,"a":88,"s":29},{"c":10,"r":31,"a":89,"s":33},{"c":11,"r":31,"a":89,"s":36},{"c":12,"r":31,"a":90,"s":39},{"c":13,"r":31,"a":90,"s":42},{"c":14,"r":31,"a":91,"s":45},{"c":15,"r":31,"a":91,"s":48},{"c":16,"r":31,"a":92,"s":50},{"c":17,"r":31,"a":92,"s":52},{"c":18,"r":31,"a":103,"s":54},{"c":19,"r":31,"a":114,"s":56},{"c":20,"r":31,"a":128,"s":58},{"c":21,"r":31,"a":137,"s":59},{"c":22,"r":31,"a":146,"s":60},{"c":23,"r":31,"a":149,"s":60},{"c":24,"r":31,"a":153,"s":61},{"c":25,"r":31,"a":160,"s":62},{"c":26,"r":31,"a":171,"s":60},{"c":27,"r":31,"a":181,"s":58},{"c":28,"r":31,"a":192,"s":56},{"c":29,"r":31,"a":202,"s":54},{"c":30,"r":31,"a":212,"s":52},{"c":31,"r":31,"a":218,"s":50}
      ]},
      "mark": {
        "type": "point",
        "shape": "M0,-0.085L0.6,-0.085L0.56,-0.25L1,0L0.56,0.25L0.6,0.085L0,0.085Z",
        "filled": true,
        "opacity": 0.82,
        "strokeWidth": 0
      },
      "encoding": {
        "x": {"field": "c", "type": "quantitative", "scale": {"domain": [-0.697, 31.71], "nice": false, "zero": false}, "axis": null},
        "y": {"field": "r", "type": "quantitative", "scale": {"domain": [-0.81, 31.51], "nice": false, "zero": false, "reverse": true}, "axis": null},
        "angle": {"field": "a", "type": "quantitative", "scale": {"domain": [0, 360], "range": [360, 0]}},
        "color": {"field": "s", "type": "quantitative", "scale": {"domain": [0, 50, 97], "range": ["#ff0000", "#ffff00", "#0000ff"], "interpolate": "rgb", "clamp": true}, "legend": null},
        "size": {"field": "s", "type": "quantitative", "scale": {"domain": [0, 72, 100], "range": [600, 620, 1300], "clamp": true}, "legend": null}
      }
    },
    {
      "data": {"values": [{"c": 7.1, "r": 17.55, "a": 57}]},
      "mark": {
        "type": "point",
        "shape": "M0,-0.085L0.6,-0.085L0.56,-0.25L1,0L0.56,0.25L0.6,0.085L0,0.085Z",
        "filled": true,
        "color": "#ffffff",
        "opacity": 0.95,
        "size": 600,
        "strokeWidth": 0
      },
      "encoding": {
        "x": {"field": "c", "type": "quantitative", "scale": {"domain": [-0.697, 31.71], "nice": false, "zero": false}, "axis": null},
        "y": {"field": "r", "type": "quantitative", "scale": {"domain": [-0.81, 31.51], "nice": false, "zero": false, "reverse": true}, "axis": null},
        "angle": {"field": "a", "type": "quantitative", "scale": {"domain": [0, 360], "range": [360, 0]}}
      }
    },
    {
      "data": {"values": [
        {"x1": 1.44, "x2": 1.57, "y1": 18.48, "y2": 18.66},
        {"x1": 4.12, "x2": 4.56, "y1": 14.78, "y2": 15.42},
        {"x1": 6.88, "x2": 7.58, "y1": 12.11, "y2": 13.10},
        {"x1": 9.52, "x2": 10.57, "y1": 10.17, "y2": 11.39},
        {"x1": 11.06, "x2": 14.40, "y1": 6.88, "y2": 12.11},
        {"x1": 12.52, "x2": 17.92, "y1": 4.79, "y2": 12.37},
        {"x1": 13.82, "x2": 21.14, "y1": 3.02, "y2": 12.87},
        {"x1": 14.98, "x2": 24.04, "y1": 1.45, "y2": 13.59}
      ]},
      "mark": {"type": "rect", "filled": false, "stroke": "#000000", "strokeWidth": 1.4, "strokeOpacity": 0.85},
      "encoding": {
        "x": {"field": "x1", "type": "quantitative", "scale": {"domain": [-0.697, 31.71], "nice": false, "zero": false}, "axis": null},
        "x2": {"field": "x2"},
        "y": {"field": "y1", "type": "quantitative", "scale": {"domain": [-0.81, 31.51], "nice": false, "zero": false, "reverse": true}, "axis": null},
        "y2": {"field": "y2"}
      }
    }
  ]
}
